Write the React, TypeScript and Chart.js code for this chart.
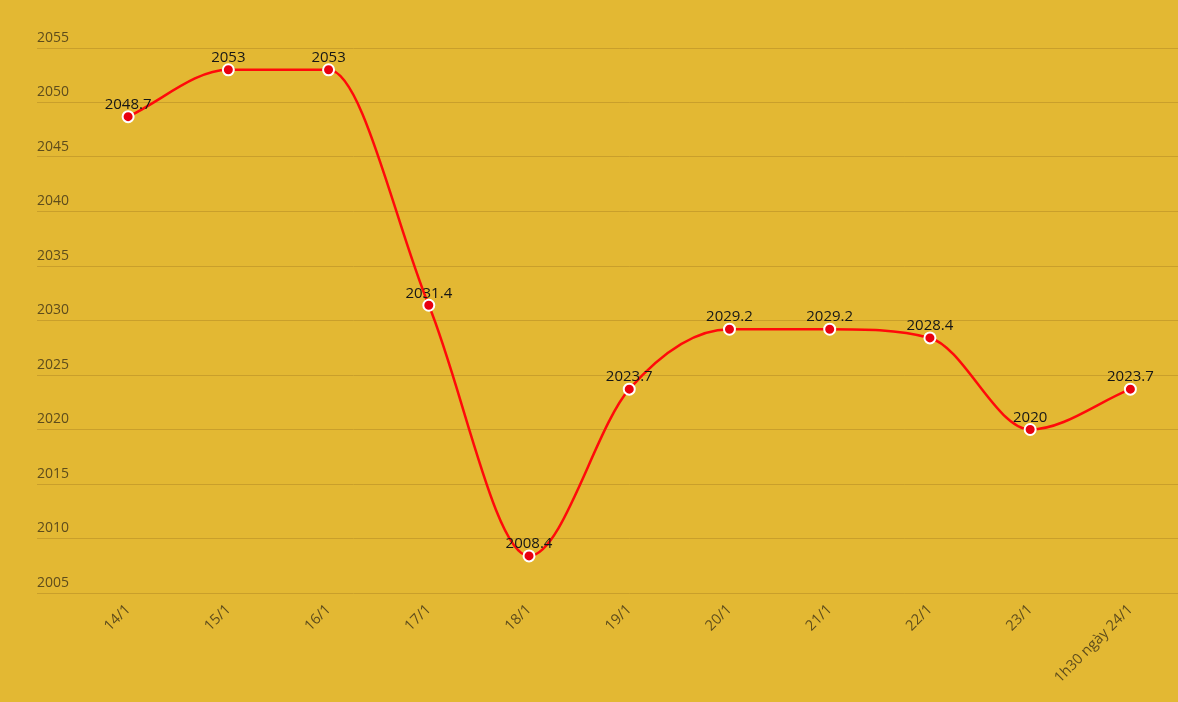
import React, { useEffect, useRef } from "react";
import { Chart, registerables } from "chart.js";

Chart.register(...registerables);

const categories = ["14/1", "15/1", "16/1", "17/1", "18/1", "19/1", "20/1", "21/1", "22/1", "23/1", "1h30 ngày 24/1"];
const prices = [2048.7, 2053, 2053, 2031.4, 2008.4, 2023.7, 2029.2, 2029.2, 2028.4, 2020, 2023.7];
const yMin = 2005;
const yMax = 2055;
const yStep = 5;

const BG = "#E3B833";
const GRID = "#C99F2B";
const TICK = "#5E4C1C";
const FONT = "'Open Sans', 'Noto Sans', sans-serif";

const labelPlugin = {
  id: "pointLabels",
  afterDatasetsDraw(chart: any) {
    const ctx = chart.ctx;
    const meta = chart.getDatasetMeta(0);
    const data = chart.data.datasets[0].data as number[];
    ctx.save();
    ctx.font = `15px ${FONT}`;
    ctx.fillStyle = "#161616";
    ctx.textAlign = "center";
    ctx.textBaseline = "middle";
    meta.data.forEach((pt: any, i: number) => {
      ctx.fillText(String(data[i]), pt.x, pt.y - 12);
    });
    ctx.restore();
  },
};

export default function App() {
  const ref = useRef<HTMLCanvasElement | null>(null);
  useEffect(() => {
    document.body.style.margin = "0";
    const chart = new Chart(ref.current!, {
      type: "line",
      data: {
        labels: categories,
        datasets: [
          {
            data: prices,
            borderColor: "#FF0A0A",
            borderWidth: 2.5,
            backgroundColor: "#E8000F",
            pointBackgroundColor: "#E8000F",
            pointBorderColor: "#FFFFFF",
            pointBorderWidth: 2,
            pointRadius: 5.5,
            cubicInterpolationMode: "monotone",
            fill: false,
          },
        ],
      },
      options: {
        animation: false,
        responsive: false,
        layout: { padding: { left: 37, top: 48, right: 0, bottom: 0 } },
        plugins: { legend: { display: false }, tooltip: { enabled: false } },
        scales: {
          x: {
            offset: true,
            grid: { display: false },
            border: { display: false },
            ticks: {
              color: TICK,
              font: { family: FONT, size: 14.5 },
              minRotation: 45,
              maxRotation: 45,
              autoSkip: false,
              padding: 0,
            },
            afterFit(scale: any) {
              scale.height = 109;
              scale.paddingLeft = 0;
              scale.paddingRight = 0;
            },
          },
          y: {
            min: yMin,
            max: yMax,
            grid: { color: GRID, drawTicks: true, tickLength: 41, lineWidth: 1 },
            border: { display: false },
            ticks: {
              stepSize: yStep,
              mirror: true,
              padding: -41,
              labelOffset: -10,
              color: TICK,
              font: { family: FONT, size: 14 },
              callback: (v: any) => String(v),
            },
            afterFit(scale: any) {
              scale.width = 41;
            },
          },
        },
      },
      plugins: [labelPlugin],
    } as any);
    return () => chart.destroy();
  }, []);
  return (
    <div style={{ position: "fixed", left: 0, top: 0, width: 1178, height: 702, background: BG, overflow: "hidden" }}>
      <canvas ref={ref} width={1188} height={702} style={{ display: "block" }} />
    </div>
  );
}
